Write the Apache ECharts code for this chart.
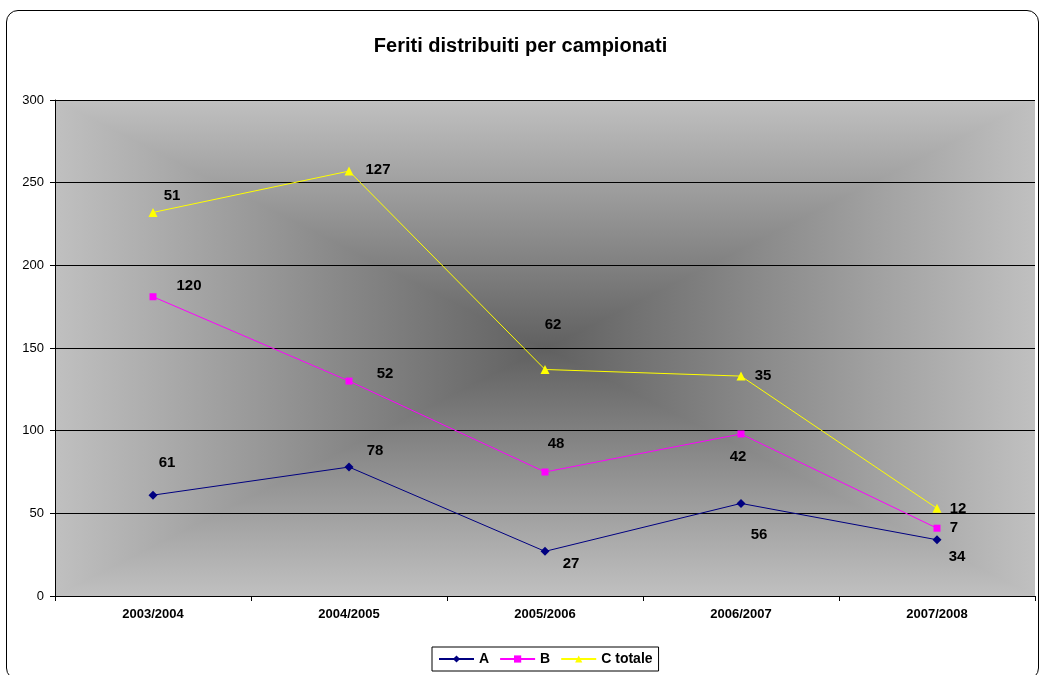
<!DOCTYPE html>
<html>
<head>
<meta charset="utf-8">
<script src="https://cdn.jsdelivr.net/npm/echarts@6/dist/echarts.min.js"></script>
<style>
  html, body { margin: 0; padding: 0; background: #fff; }
  #frame {
    position: absolute; left: 6px; top: 10px; width: 1033px; height: 670px;
    border: 1px solid #000; border-radius: 12px; box-sizing: border-box;
  }
  #main { position: absolute; left: 0; top: 0; width: 1041px; height: 675px; }
</style>
</head>
<body>
<div id="frame"></div>
<div id="main"></div>
<script>
// stagioni e feriti per campionato (valori non cumulati, la serie è impilata)
var categories = ["2003/2004", "2004/2005", "2005/2006", "2006/2007", "2007/2008"];
var serieA = [61, 78, 27, 56, 34];
var serieB = [120, 52, 48, 42, 7];
var serieC = [51, 127, 62, 35, 12];

// spostamento delle etichette rispetto al punto
var offA = [[14, -32], [26, -16], [26, 12], [18, 31], [20, 17]];
var offB = [[36, -11], [36, -7], [11, -28], [-3, 23], [17, 0]];
var offC = [[19, -17], [29, -1], [8, -45], [22, 0], [21, 0]];

// area del grafico (px)
var W = 1041, H = 675;
var gL = 55, gR = 6, gT = 100, gB = 79;

function withLabels(values, offs) {
  return values.map(function (v, i) {
    return { value: v, label: { offset: offs[i] } };
  });
}

// sfondo con gradiente rettangolare dal centro:
// due metà orizzontali + due triangoli laterali sopra
function pathGradient() {
  var l = gL, r = W - gR, t = gT, b = H - gB;
  var cx = (l + r) / 2, cy = (t + b) / 2;
  var edge = "#c0c0c0", mid = "#606060";
  function grad(x2, y2, c0, c1) {
    return { type: "linear", x: 0, y: 0, x2: x2, y2: y2,
      colorStops: [{ offset: 0, color: c0 }, { offset: 1, color: c1 }] };
  }
  return [
    { type: "rect", z: -2, silent: true, shape: { x: l, y: t, width: r - l, height: cy - t + 1 }, style: { fill: grad(0, 1, edge, mid) } },
    { type: "rect", z: -2, silent: true, shape: { x: l, y: cy, width: r - l, height: b - cy }, style: { fill: grad(0, 1, mid, edge) } },
    { type: "polygon", z: -1, silent: true, shape: { points: [[l, t], [cx, cy], [l, b]] }, style: { fill: grad(1, 0, edge, mid) } },
    { type: "polygon", z: -1, silent: true, shape: { points: [[r, t], [cx, cy], [r, b]] }, style: { fill: grad(1, 0, mid, edge) } }
  ];
}

var labelStyle = {
  show: true,
  position: "inside",
  color: "#000",
  fontWeight: "bold",
  fontSize: 15,
  fontFamily: "Arial",
  formatter: function (p) { return p.value; }
};

var chart = echarts.init(document.getElementById("main"));
var option = {
  animation: false,
  textStyle: { fontFamily: "Arial" },
  graphic: pathGradient(),
  title: {
    text: "Feriti distribuiti per campionati",
    left: "center",
    top: 31,
    textStyle: { fontSize: 20, fontWeight: "bold", color: "#000", fontFamily: "Arial" }
  },
  legend: {
    bottom: 4,
    left: 432,
    itemWidth: 35,
    itemHeight: 9,
    itemGap: 10,
    padding: [5, 6, 5, 6],
    borderColor: "#000",
    borderWidth: 1,
    backgroundColor: "#fff",
    textStyle: { fontSize: 14, fontWeight: "bold", color: "#000", fontFamily: "Arial" },
    data: ["A", "B", "C totale"]
  },
  grid: {
    left: gL, right: gR, top: gT, bottom: gB,
    show: false
  },
  xAxis: {
    type: "category",
    data: categories,
    boundaryGap: true,
    axisLine: { lineStyle: { color: "#000", width: 1 } },
    axisTick: { show: true, length: 5, lineStyle: { color: "#000" } },
    axisLabel: { color: "#000", fontWeight: "bold", fontSize: 13, margin: 12 }
  },
  yAxis: {
    type: "value",
    min: 0, max: 300, interval: 50,
    axisLine: { show: true, lineStyle: { color: "#000" } },
    axisTick: { show: true, length: 5, lineStyle: { color: "#000" } },
    axisLabel: { color: "#000", fontSize: 13, margin: 11 },
    splitLine: { show: true, lineStyle: { color: "#000", width: 1 } }
  },
  series: [
    {
      name: "A", type: "line", stack: "tot",
      symbol: "diamond", symbolSize: 9,
      color: "#000080",
      lineStyle: { color: "#000080", width: 1 },
      label: labelStyle,
      data: withLabels(serieA, offA)
    },
    {
      name: "B", type: "line", stack: "tot",
      symbol: "rect", symbolSize: 7,
      color: "#ff00ff",
      lineStyle: { color: "#ff00ff", width: 1 },
      label: labelStyle,
      data: withLabels(serieB, offB)
    },
    {
      name: "C totale", type: "line", stack: "tot",
      symbol: "triangle", symbolSize: 9,
      color: "#ffff00",
      lineStyle: { color: "#ffff00", width: 1 },
      label: labelStyle,
      data: withLabels(serieC, offC)
    }
  ]
};
chart.setOption(option);
</script>
</body>
</html>
